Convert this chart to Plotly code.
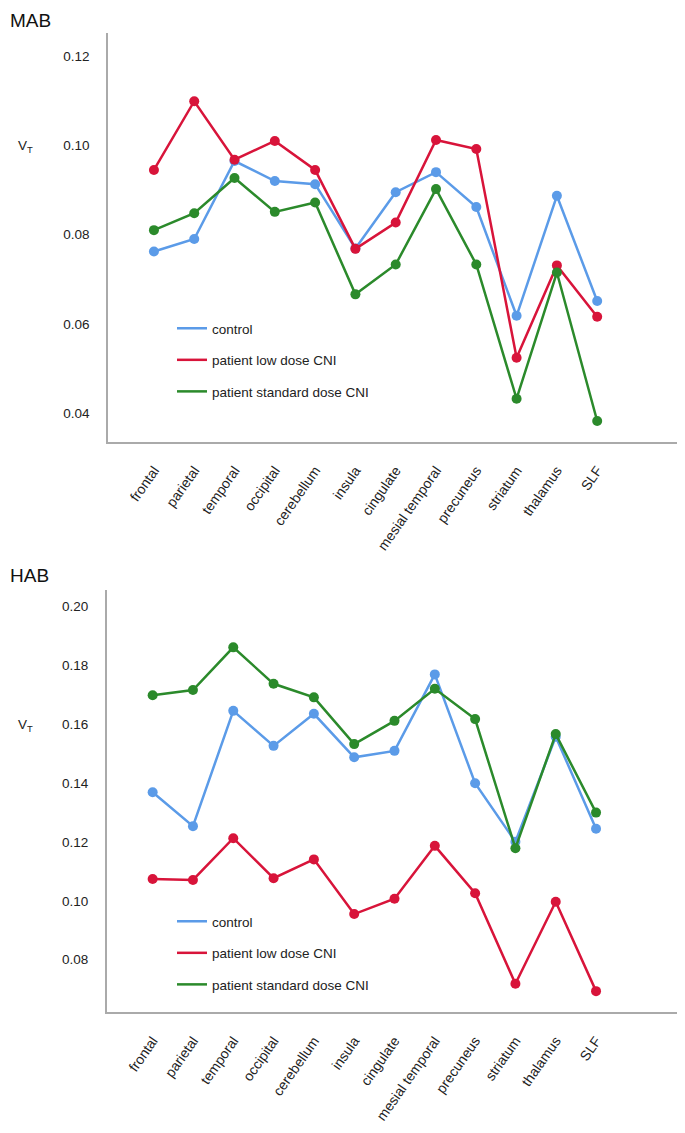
import plotly.graph_objects as go

regions = ["frontal", "parietal", "temporal", "occipital", "cerebellum", "insula",
           "cingulate", "mesial temporal", "precuneus", "striatum", "thalamus", "SLF"]

series_names = ["control", "patient low dose CNI", "patient standard dose CNI"]

mab_control = [0.0762, 0.0790, 0.0965, 0.0920, 0.0913, 0.0769, 0.0895, 0.0940, 0.0862, 0.0618, 0.0887, 0.0651]
mab_low     = [0.0945, 0.1099, 0.0968, 0.1010, 0.0945, 0.0768, 0.0827, 0.1012, 0.0992, 0.0524, 0.0731, 0.0616]
mab_std     = [0.0810, 0.0848, 0.0927, 0.0851, 0.0872, 0.0666, 0.0733, 0.0902, 0.0733, 0.0432, 0.0715, 0.0382]

hab_control = [0.1369, 0.1254, 0.1646, 0.1527, 0.1636, 0.1488, 0.1510, 0.1770, 0.1400, 0.1201, 0.1558, 0.1245]
hab_low     = [0.1074, 0.1071, 0.1213, 0.1077, 0.1141, 0.0955, 0.1007, 0.1187, 0.1026, 0.0718, 0.0997, 0.0693]
hab_std     = [0.1699, 0.1717, 0.1862, 0.1738, 0.1692, 0.1533, 0.1612, 0.1721, 0.1618, 0.1179, 0.1567, 0.1300]

mab_ticks = [0.04, 0.06, 0.08, 0.10, 0.12]
hab_ticks = [0.08, 0.10, 0.12, 0.14, 0.16, 0.18, 0.20]

colors = ["#5b9be8", "#d8143a", "#2b8a2b"]
FONT = "Arial, Liberation Sans, sans-serif"
W, H = 685, 1133
OFF = 8  # page body margin


def px(x):
    return max(0.0, (x - OFF) / W)


def py(y):
    return min(1.0, 1 - (y - OFF) / H)


fig = go.Figure()

panels = [
    ("x", "y", "legend", [mab_control, mab_low, mab_std]),
    ("x2", "y2", "legend2", [hab_control, hab_low, hab_std]),
]

for xa, ya, lg, data in panels:
    for name, vals, col in zip(series_names, data, colors):
        fig.add_trace(go.Scatter(
            x=regions, y=vals, mode="lines+markers", name=name,
            xaxis=xa, yaxis=ya, showlegend=False,
            line=dict(color=col, width=2.5),
            marker=dict(color=col, size=10),
            cliponaxis=False,
        ))
    for name, col in zip(series_names, colors):
        fig.add_trace(go.Scatter(
            x=[None], y=[None], mode="lines", name=name,
            xaxis=xa, yaxis=ya, legend=lg, legendgroup=lg + name,
            line=dict(color=col, width=2.5),
        ))

axis_common = dict(showline=True, linecolor="#aaaaaa", linewidth=1.5, showgrid=False,
                   zeroline=False, ticks="outside", tickcolor="rgba(0,0,0,0)")
xfont = dict(family=FONT, size=14, color="#222222")
yfont = dict(family=FONT, size=13.5, color="#222222")
lfont = dict(family=FONT, size=13.5, color="#222222")

fig.update_layout(
    width=W, height=H,
    margin=dict(l=0, r=0, t=0, b=0),
    plot_bgcolor="white", paper_bgcolor="white",
    font=dict(family=FONT, size=13, color="#222222"),
    xaxis=dict(domain=[px(108), px(681)], anchor="y", range=[-1.14, 13.08],
               tickangle=-55, ticklen=13, tickfont=xfont, **axis_common),
    yaxis=dict(domain=[py(442), py(33)], anchor="x", range=[0.0335, 0.1252],
               tickvals=mab_ticks, tickformat=".2f", ticklen=14, tickfont=yfont,
               **axis_common),
    xaxis2=dict(domain=[px(106.7), px(682.7)], anchor="y2", range=[-1.14, 13.15],
                tickangle=-55, ticklen=13, tickfont=xfont, **axis_common),
    yaxis2=dict(domain=[py(1012.3), py(590)], anchor="x2", range=[0.0621, 0.2057],
                tickvals=hab_ticks, tickformat=".2f", ticklen=14, tickfont=yfont,
                **axis_common),
    legend=dict(x=px(172), y=py(313), xanchor="left", yanchor="top",
                bgcolor="rgba(0,0,0,0)", font=lfont,
                tracegroupgap=11, traceorder="grouped"),
    legend2=dict(x=px(172), y=py(906), xanchor="left", yanchor="top",
                 bgcolor="rgba(0,0,0,0)", font=lfont,
                 tracegroupgap=11, traceorder="grouped"),
    annotations=[
        dict(text="MAB", x=0, y=1, xref="paper", yref="paper", xanchor="left",
             yanchor="top", showarrow=False, font=dict(family=FONT, size=19, color="#111111")),
        dict(text="HAB", x=0, y=py(563), xref="paper", yref="paper", xanchor="left",
             yanchor="top", showarrow=False, font=dict(family=FONT, size=19, color="#111111")),
        dict(text="V<sub>T</sub>", x=px(16), y=py(146), xref="paper", yref="paper",
             xanchor="left", yanchor="middle", showarrow=False,
             font=dict(family=FONT, size=13.5, color="#222222")),
        dict(text="V<sub>T</sub>", x=px(16), y=py(725), xref="paper", yref="paper",
             xanchor="left", yanchor="middle", showarrow=False,
             font=dict(family=FONT, size=13.5, color="#222222")),
    ],
)

fig.write_html("out.html")
